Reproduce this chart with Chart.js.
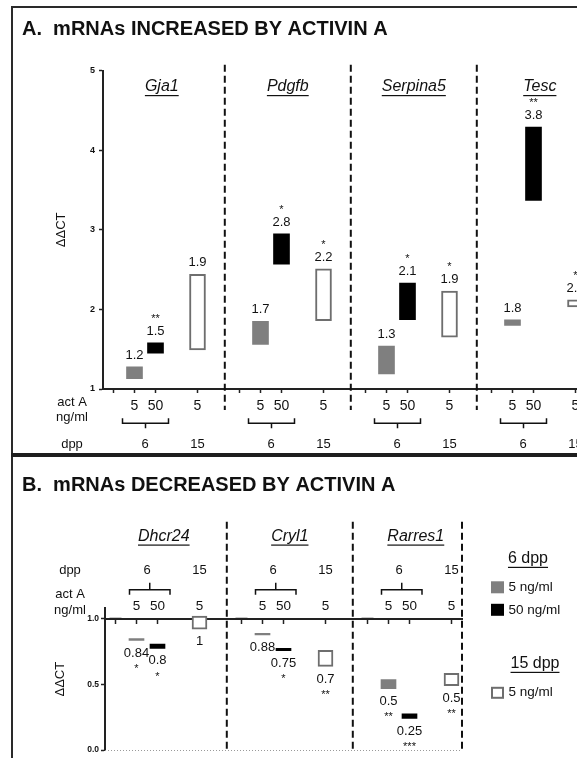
<!DOCTYPE html>
<html>
<head>
<meta charset="utf-8">
<script src="https://cdn.jsdelivr.net/npm/chart.js@4.4.1/dist/chart.umd.min.js"></script>
<style>
  html, body { margin: 0; padding: 0; background: #fff; overflow: hidden; width: 577px; height: 758px; }
  #frame { position: absolute; left: 11px; top: 6px; width: 720px; height: 820px; border: 2px solid #2a2a2a; box-sizing: border-box; }
  #divider { position: absolute; left: 11px; top: 453px; width: 720px; height: 4px; background: #1e1e1e; }
  #wrapA { position: absolute; left: 0; top: 0; width: 640px; height: 455px; }
  #wrapB { position: absolute; left: 0; top: 457px; width: 577px; height: 301px; }
</style>
</head>
<body>
<div id="frame"></div>
<div id="divider"></div>
<div id="wrapA"><canvas id="chartA"></canvas></div>
<div id="wrapB"><canvas id="chartB"></canvas></div>
<script>
// ---------------- data ----------------
const genesA = ['Gja1', 'Pdgfb', 'Serpina5', 'Tesc'];
const genesB = ['Dhcr24', 'Cryl1', 'Rarres1'];
const slotTickLabels = ['', '5', '50', '', '5', ''];   // act A (ng/ml) per slot
const dppLabels = ['6', '15'];
const controlValue = 1;

// Panel A: mRNAs increased — floating ranges [low, high] of ΔΔCT
const incD6Low  = [[1.13, 1.28], [1.56, 1.85], [1.19, 1.54], [1.80, 1.87]];
const incD6High = [[1.45, 1.58], [2.57, 2.95], [1.87, 2.33], [3.37, 4.29]];
const incD15    = [[1.49, 2.44], [1.86, 2.51], [1.65, 2.23], [2.03, 2.12]];
const incD6LowMean  = [1.2, 1.7, 1.3, 1.8];
const incD6HighMean = [1.5, 2.8, 2.1, 3.8];
const incD15Mean    = [1.9, 2.2, 1.9, 2.1];
const incD6LowSig  = ['', '', '', ''];
const incD6HighSig = ['**', '*', '*', '**'];
const incD15Sig    = ['', '*', '*', '*'];

// Panel B: mRNAs decreased
const decD6Low  = [[0.835, 0.85], [0.877, 0.89], [0.467, 0.537]];
const decD6High = [[0.775, 0.807], [0.757, 0.775], [0.24, 0.275]];
const decD15    = [[0.92, 1.02], [0.637, 0.76], [0.49, 0.585]];
const decD6LowMean  = [0.84, 0.88, 0.5];
const decD6HighMean = [0.8, 0.75, 0.25];
const decD15Mean    = [1, 0.7, 0.5];
const decD6LowSig  = ['*', '', '**'];
const decD6HighSig = ['*', '*', '***'];
const decD15Sig    = ['', '**', '**'];

// ---------------- helpers ----------------
const FONT = "'Liberation Sans', Arial, Helvetica, sans-serif";
const GRAY = '#7f7f7f', BLACK = '#000000', OUTLINE = '#6e6e6e', INK = '#111111';
const SLOTS = slotTickLabels.length;

Chart.defaults.font.family = FONT;
Chart.defaults.color = INK;

function buildLabels(n, dropTail) {
  const out = [];
  for (let g = 0; g < n; g++) slotTickLabels.forEach(l => out.push(l));
  if (dropTail) out.pop();
  return out;
}
function seriesAt(values, slot, len) {
  const out = new Array(len).fill(null);
  values.forEach((v, g) => { out[g * SLOTS + slot] = v; });
  return out;
}
function isGap(i) { const s = i % SLOTS; return s === 3 || s === 5; }

function makeDatasets(genes, d6Low, d6High, d15, len, thick) {
  return [
    { type: 'line', label: 'control', data: seriesAt(genes.map(() => controlValue), 0, len),
      showLine: false, pointStyle: 'line', pointRadius: 6, pointHoverRadius: 6, pointBorderWidth: 2,
      borderColor: '#222', backgroundColor: '#222' },
    { label: '5 ng/ml (6 dpp)', data: seriesAt(d6Low, 1, len), backgroundColor: GRAY, borderWidth: 0,
      barThickness: thick, grouped: false },
    { label: '50 ng/ml (6 dpp)', data: seriesAt(d6High, 2, len), backgroundColor: BLACK, borderWidth: 0,
      barThickness: thick, grouped: false },
    { label: '5 ng/ml (15 dpp)', data: seriesAt(d15, 4, len), backgroundColor: '#ffffff', borderColor: OUTLINE,
      borderWidth: 2, borderSkipped: false, barThickness: thick, grouped: false }
  ];
}

function drawText(ctx, s, x, y, size, o = {}) {
  ctx.save();
  ctx.font = (o.style || 'normal') + ' ' + (o.weight || 'normal') + ' ' + size + 'px ' + FONT;
  ctx.fillStyle = o.color || INK;
  ctx.textAlign = o.align || 'center';
  ctx.textBaseline = 'middle';
  ctx.fillText(s, x, y);
  if (o.underline) {
    const w = ctx.measureText(s).width;
    const x0 = (o.align === 'left') ? x : x - w / 2;
    ctx.fillRect(x0, y + size * 0.5, w, 1.2);
  }
  ctx.restore();
}
function dashed(ctx, x, y1, y2) {
  ctx.save();
  ctx.strokeStyle = INK; ctx.lineWidth = 2; ctx.setLineDash([7, 4]);
  ctx.beginPath(); ctx.moveTo(x, y1); ctx.lineTo(x, y2); ctx.stroke();
  ctx.restore();
}
function bracket(ctx, xa, xb, y, tip, mid) {
  ctx.save();
  ctx.strokeStyle = INK; ctx.lineWidth = 1.5;
  ctx.beginPath();
  ctx.moveTo(xa, y + tip); ctx.lineTo(xa, y); ctx.lineTo(xb, y); ctx.lineTo(xb, y + tip);
  const xm = (xa + xb) / 2;
  ctx.moveTo(xm, y); ctx.lineTo(xm, y + mid);
  ctx.stroke();
  ctx.restore();
}
function labelBars(chart, di, slot, means, sigs, above) {
  const ctx = chart.ctx;
  const meta = chart.getDatasetMeta(di);
  means.forEach((m, g) => {
    const el = meta.data[g * SLOTS + slot];
    if (!el) return;
    if (above) {
      const top = Math.min(el.y, el.base);
      const ly = top - 11.5;
      drawText(ctx, String(m), el.x, ly, 13);
      if (sigs[g]) drawText(ctx, sigs[g], el.x, ly - 12.5, 11);
    } else {
      const bot = Math.max(el.y, el.base);
      const ly = bot + 12.5;
      drawText(ctx, String(m), el.x, ly, 13);
      if (sigs[g]) drawText(ctx, sigs[g], el.x, ly + 16, 11);
    }
  });
}

// ---------------- decorations ----------------
const decorA = {
  id: 'decorA',
  afterDraw(chart) {
    const ctx = chart.ctx, x = chart.scales.x, ca = chart.chartArea;
    const sw = x.getPixelForValue(1) - x.getPixelForValue(0);
    genesA.forEach((gene, g) => {
      const b = g * SLOTS;
      const x5 = x.getPixelForValue(b + 1), x50 = x.getPixelForValue(b + 2), x15 = x.getPixelForValue(b + 4);
      drawText(ctx, gene, x50 + 0.3 * sw, ca.top + 16.3, 16, { style: 'italic', underline: true });
      dashed(ctx, x15 + 1.3 * sw, ca.top - 6, ca.bottom + 21);
      bracket(ctx, x5 - 12, x50 + 13, ca.bottom + 34.3, -5, 5);
      drawText(ctx, dppLabels[0], (x5 + x50) / 2, ca.bottom + 55, 13);
      drawText(ctx, dppLabels[1], x15, ca.bottom + 55, 13);
    });
    drawText(ctx, 'act A', ca.left - 31, ca.bottom + 13.7, 13);
    drawText(ctx, 'ng/ml', ca.left - 31, ca.bottom + 28.7, 13);
    drawText(ctx, 'dpp', ca.left - 31, ca.bottom + 55, 13);
    labelBars(chart, 1, 1, incD6LowMean, incD6LowSig, true);
    labelBars(chart, 2, 2, incD6HighMean, incD6HighSig, true);
    labelBars(chart, 3, 4, incD15Mean, incD15Sig, true);
  }
};

const decorB = {
  id: 'decorB',
  beforeDatasetsDraw(chart) {
    const ctx = chart.ctx, y = chart.scales.y, ca = chart.chartArea;
    const y0 = y.getPixelForValue(0);
    ctx.save();
    ctx.strokeStyle = '#9a9a9a'; ctx.lineWidth = 1; ctx.setLineDash([1, 2]);
    ctx.beginPath(); ctx.moveTo(ca.left, y0 + 0.5); ctx.lineTo(ca.right, y0 + 0.5); ctx.stroke();
    ctx.restore();
  },
  afterDraw(chart) {
    const ctx = chart.ctx, x = chart.scales.x, y = chart.scales.y, ca = chart.chartArea;
    const sw = x.getPixelForValue(1) - x.getPixelForValue(0);
    const ay = y.getPixelForValue(controlValue);
    genesB.forEach((gene, g) => {
      const b = g * SLOTS;
      const x5 = x.getPixelForValue(b + 1), x50 = x.getPixelForValue(b + 2), x15 = x.getPixelForValue(b + 4);
      drawText(ctx, gene, x50 + 0.3 * sw, ay - 82.3, 16, { style: 'italic', underline: true });
      dashed(ctx, Math.min(x15 + 1.3 * sw, ca.right), ay - 97, ca.bottom);
      drawText(ctx, slotTickLabels[1], x5, ay - 12.3, 13.5);
      drawText(ctx, slotTickLabels[2], x50, ay - 12.3, 13.5);
      drawText(ctx, slotTickLabels[4], x15, ay - 12.3, 13.5);
      bracket(ctx, x5 - 7, x50 + 12.5, ay - 29, 5, -7);
      drawText(ctx, dppLabels[0], (x5 + x50) / 2, ay - 48, 13);
      drawText(ctx, dppLabels[1], x15, ay - 48, 13);
    });
    drawText(ctx, 'dpp', ca.left - 35, ay - 48, 13);
    drawText(ctx, 'act A', ca.left - 35, ay - 24, 13);
    drawText(ctx, 'ng/ml', ca.left - 35, ay - 8.3, 13);
    labelBars(chart, 1, 1, decD6LowMean, decD6LowSig, false);
    labelBars(chart, 2, 2, decD6HighMean, decD6HighSig, false);
    labelBars(chart, 3, 4, decD15Mean, decD15Sig, false);

    // legend
    const ds = chart.data.datasets;
    const lx = ca.right + 29;
    drawText(ctx, '6 dpp', lx + 37, ay - 60, 16, { underline: true });
    ctx.save();
    ctx.fillStyle = ds[1].backgroundColor; ctx.fillRect(lx, ay - 37.5, 13, 12);
    ctx.fillStyle = ds[2].backgroundColor; ctx.fillRect(lx, ay - 15, 13, 12);
    ctx.fillStyle = ds[3].backgroundColor; ctx.strokeStyle = ds[3].borderColor; ctx.lineWidth = 2;
    ctx.fillRect(lx, ay + 68, 13, 12); ctx.strokeRect(lx + 1, ay + 69, 11, 10);
    ctx.restore();
    drawText(ctx, '5 ng/ml', lx + 17.5, ay - 31.3, 13.5, { align: 'left' });
    drawText(ctx, '50 ng/ml', lx + 17.5, ay - 9, 13.5, { align: 'left' });
    drawText(ctx, '15 dpp', lx + 44, ay + 45, 16, { underline: true });
    drawText(ctx, '5 ng/ml', lx + 17.5, ay + 73.7, 13.5, { align: 'left' });
  }
};

// ---------------- chart A ----------------
const labelsA = buildLabels(genesA.length, false);
new Chart(document.getElementById('chartA'), {
  type: 'bar',
  data: { labels: labelsA, datasets: makeDatasets(genesA, incD6Low, incD6High, incD15, labelsA.length, 16) },
  options: {
    responsive: true, maintainAspectRatio: false, animation: false, events: [],
    layout: { padding: { left: 22, right: 33, top: 0, bottom: 0 } },
    plugins: {
      legend: { display: false }, tooltip: { enabled: false },
      title: { display: true, text: 'A.  mRNAs INCREASED BY ACTIVIN A', align: 'start', color: INK,
               font: { size: 20, weight: 'bold' }, padding: { top: 17, bottom: 29.7 } }
    },
    scales: {
      x: {
        type: 'category', offset: true,
        grid: { display: true, drawOnChartArea: false, drawTicks: true, offset: false, tickLength: 4,
                tickWidth: 1.5, color: '#222', tickColor: c => isGap(c.index) ? 'rgba(0,0,0,0)' : '#222' },
        border: { display: true, color: '#222', width: 2 },
        ticks: { autoSkip: false, maxRotation: 0, minRotation: 0, padding: 5, font: { size: 14 }, color: INK },
        afterFit: s => { s.height = 66; }
      },
      y: {
        min: 1, max: 5,
        ticks: { stepSize: 1, padding: 4, font: { size: 9, weight: 'bold' }, color: INK },
        grid: { drawOnChartArea: false, drawTicks: true, tickLength: 4, tickWidth: 1.5, color: '#222' },
        border: { display: true, color: '#222', width: 2 },
        title: { display: true, text: 'ΔΔCT', font: { size: 13 }, color: INK, padding: { top: 32, bottom: 0 } },
        afterFit: s => { s.width = 81; }
      }
    }
  },
  plugins: [decorA]
});

// ---------------- chart B ----------------
const labelsB = buildLabels(genesB.length, true);
new Chart(document.getElementById('chartB'), {
  type: 'bar',
  data: { labels: labelsB, datasets: makeDatasets(genesB, decD6Low, decD6High, decD15, labelsB.length, 15) },
  options: {
    responsive: true, maintainAspectRatio: false, animation: false, events: [],
    layout: { padding: { left: 22, right: 115, top: 0, bottom: 5.7 } },
    plugins: {
      legend: { display: false }, tooltip: { enabled: false },
      title: { display: true, text: 'B.  mRNAs DECREASED BY ACTIVIN A', align: 'start', color: INK,
               font: { size: 20, weight: 'bold' }, padding: { top: 16, bottom: 111.3 } }
    },
    scales: {
      x: {
        type: 'category', offset: true, position: { y: controlValue },
        grid: { display: true, drawOnChartArea: false, drawTicks: true, offset: false, tickLength: 4,
                tickWidth: 1.5, color: '#222', tickColor: c => isGap(c.index) ? 'rgba(0,0,0,0)' : '#222' },
        border: { display: true, color: '#222', width: 2 },
        ticks: { display: false, autoSkip: false, maxRotation: 0 }
      },
      y: {
        min: 0, max: 1.08,
        ticks: { stepSize: 0.5, includeBounds: false, padding: 2, font: { size: 8.5, weight: 'bold' }, color: INK,
                 callback: v => Number(v).toFixed(1) },
        grid: { drawOnChartArea: false, drawTicks: true, tickLength: 4, tickWidth: 1.5, color: '#222' },
        border: { display: true, color: '#222', width: 2 },
        title: { display: true, text: 'ΔΔCT', font: { size: 13 }, color: INK, padding: { top: 31, bottom: 0 } },
        afterFit: s => { s.width = 83; }
      }
    }
  },
  plugins: [decorB]
});
</script>
</body>
</html>
